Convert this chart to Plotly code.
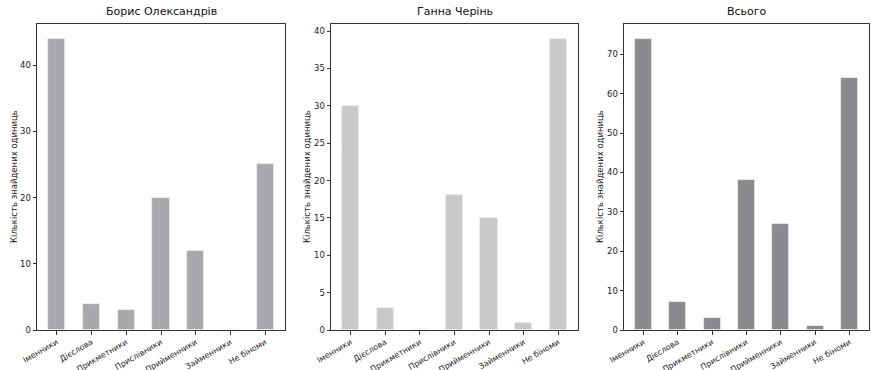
import plotly.graph_objects as go

categories = ["Іменники", "Дієслова", "Прикметники", "Прислівники", "Прийменники", "Займенники", "Не біноми"]
boris = [44, 4, 3, 20, 12, 0, 25]
hanna = [30, 3, 0, 18, 15, 1, 39]
total = [74, 7, 3, 38, 27, 1, 64]
titles = ["Борис Олександрів", "Ганна Черінь", "Всього"]
y_title = "Кількість знайдених одиниць"

W, H = 871, 370
colors = ["#a9a9ad", "#c9c9c9", "#8b8b8f"]
xdom_px = [(37, 285), (331, 578), (624, 869)]
ytitle_px = [14, 307, 600]
top_px, bot_px = 24, 330
ydom = [(H - bot_px) / H, (H - top_px) / H]
series = [boris, hanna, total]
dticks = [10, 5, 10]

fig = go.Figure()
font = dict(family="DejaVu Sans", size=8.5, color="#222222")
xfont = dict(family="DejaVu Sans", size=8, color="#222222")
for i, vals in enumerate(series):
    sfx = "" if i == 0 else str(i + 1)
    fig.add_trace(go.Bar(x=categories, y=vals, width=0.5, marker=dict(color=colors[i], line=dict(width=0.8, color="#eeeeee")),
                         xaxis="x" + sfx, yaxis="y" + sfx, showlegend=False, hoverinfo="skip"))
    x0, x1 = xdom_px[i]
    ymax = max(vals) * 1.05
    fig.layout["xaxis" + sfx] = dict(domain=[x0 / W, x1 / W], anchor="y" + sfx, range=[-0.57, 6.57],
                                     tickangle=-30, ticks="outside", ticklen=3.5, tickcolor="#333",
                                     showline=True, linecolor="#333", linewidth=1, mirror=True,
                                     showgrid=False, zeroline=False, tickfont=xfont, automargin=False)
    fig.layout["yaxis" + sfx] = dict(domain=ydom, anchor="x" + sfx, range=[0, ymax], dtick=dticks[i],
                                     ticks="outside", ticklen=3.5, tickcolor="#333",
                                     showline=True, linecolor="#333", linewidth=1, mirror=True,
                                     showgrid=False, zeroline=False, tickfont=font, automargin=False)
    fig.add_annotation(text=titles[i], x=(x0 + x1) / 2 / W, y=(H - top_px + 4) / H, xref="paper", yref="paper",
                       xanchor="center", yanchor="bottom", showarrow=False,
                       font=dict(family="DejaVu Sans", size=11, color="#111111"))
    fig.add_annotation(text=y_title, x=ytitle_px[i] / W, y=sum(ydom) / 2, xref="paper", yref="paper",
                       xanchor="center", yanchor="middle", textangle=-90, showarrow=False,
                       font=dict(family="DejaVu Sans", size=8.5, color="#222222"))

fig.update_layout(width=W, height=H, margin=dict(l=0, r=0, t=0, b=0, autoexpand=False),
                  paper_bgcolor="white", plot_bgcolor="white", bargap=0)
fig.write_html("out.html", config={"displayModeBar": False},
               post_script="document.body.style.margin='0';document.body.style.overflow='hidden';")
